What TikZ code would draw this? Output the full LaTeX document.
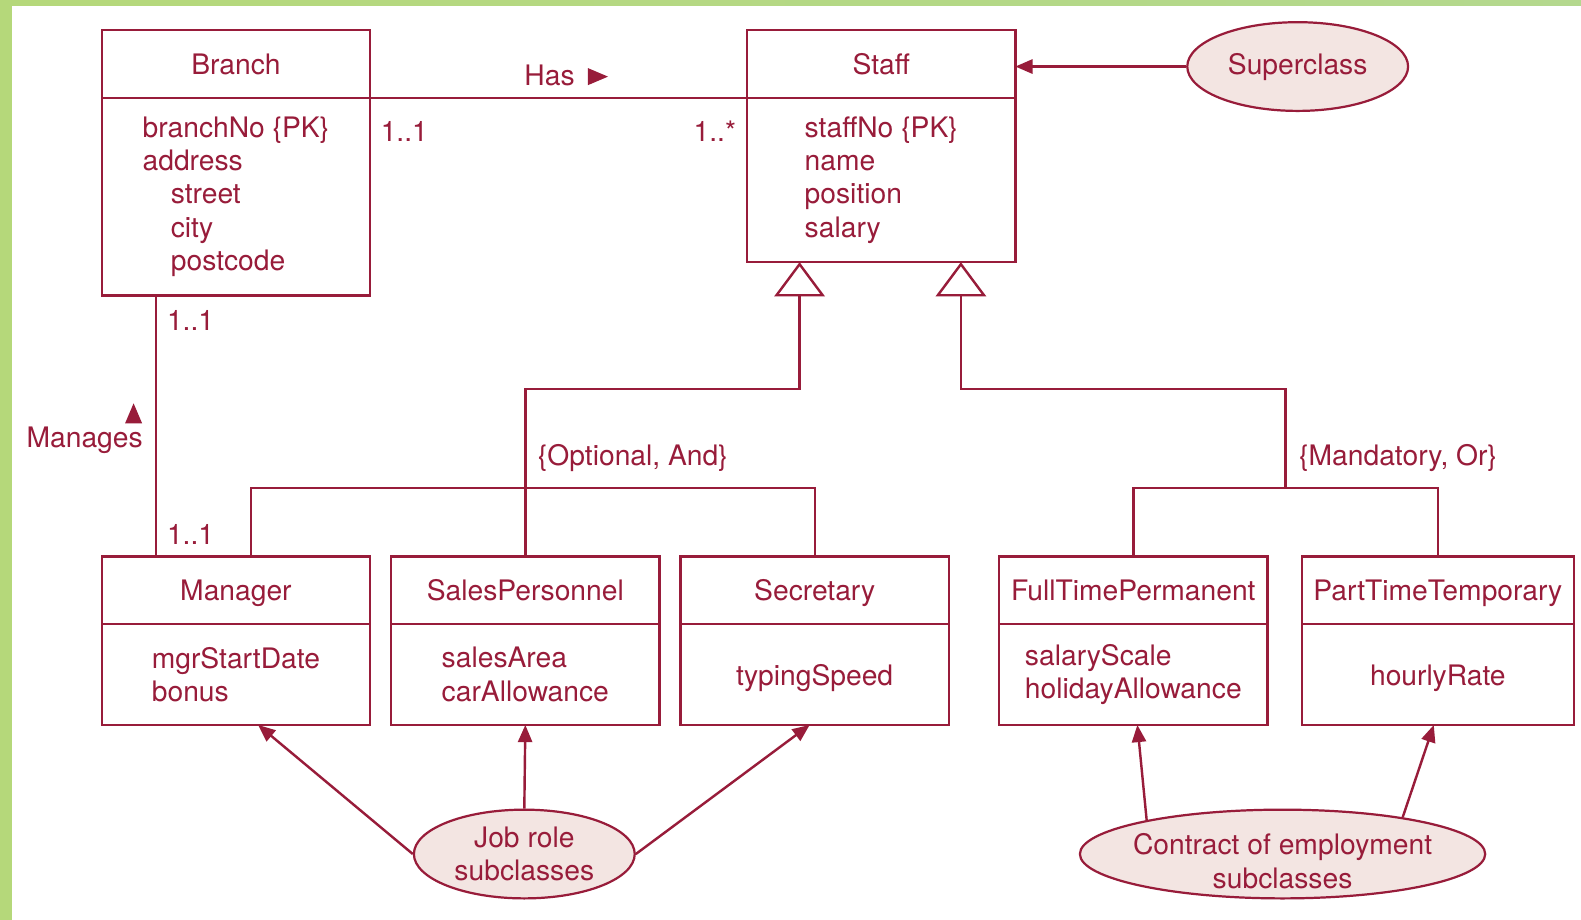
\documentclass[tikz,border=0pt]{standalone}
\usepackage{fontspec}
\setmainfont{TeX Gyre Heros}
\usetikzlibrary{shapes.geometric,arrows.meta}

\definecolor{umlred}{RGB}{152,28,58}
\definecolor{notefill}{RGB}{243,229,226}
\definecolor{barleft}{RGB}{181,216,122}
\definecolor{barmid}{RGB}{204,224,132}
\definecolor{barright}{RGB}{180,216,142}

\tikzset{
  every node/.style={font=\fontsize{28}{33}\selectfont, text=umlred},
  head/.style={draw=umlred, line width=2.4pt, minimum width=266, minimum height=67, inner sep=0pt, outer sep=0pt, text height=24pt, text depth=4pt},
  body/.style={draw=umlred, line width=2.4pt, minimum width=266, inner sep=0pt, outer sep=0pt, align=left, anchor=north, execute at begin node=\rule{0pt}{28pt}},
  note/.style={ellipse, draw=umlred, fill=notefill, line width=2.2pt, inner sep=0pt, minimum height=88},
  link/.style={draw=umlred, line width=2.4pt},
  arr/.style={link, -{Triangle[length=17pt,width=14pt]}},
  gen/.style={link, -{Triangle[open,length=34pt,width=50pt,fill=white]}}
}

\begin{document}
\begin{tikzpicture}[x=1pt,y=-1pt]
  \useasboundingbox (0,0) rectangle (1568,912);
  \fill[white] (0,0) rectangle (1568,912);
  \fill[barleft] (0,0) rectangle (12,912);
  \shade[left color=barleft, middle color=barmid, right color=barright] (0,0) rectangle (1568,5);

  % Superclass and its association
  \node[head] (branchH) at (234,63.5) {Branch};
  \node[body, minimum height=196] (branchB) at (branchH.south) {branchNo \{PK\}\\address\\\hspace*{28pt}street\\\hspace*{28pt}city\\\hspace*{28pt}postcode};
  \node[head] (staffH) at (874,63.5) {Staff};
  \node[body, minimum height=163] (staffB) at (staffH.south) {staffNo \{PK\}\\name\\position\\salary};
  \draw[link] (branchH.south east) -- (staffH.south west);
  \node (hasL) at (545,75) {Has};
  \fill[umlred] (583,67.5) -- (603,76) -- (583,84.5) -- cycle;
  \node (branchMult) at (401,130) {1..1};
  \node (staffMult) at (709,130) {1..*};

  % Subclasses
  \node[head] (mgrH) at (234,585.5) {Manager};
  \node[body, minimum height=100] (mgrB) at (mgrH.south) {mgrStartDate\\bonus};
  \node[head] (salesH) at (521,585.5) {SalesPersonnel};
  \node[body, minimum height=100] (salesB) at (salesH.south) {salesArea\\carAllowance};
  \node[head] (secH) at (808,585.5) {Secretary};
  \node[body, minimum height=100] (secB) at (secH.south) {typingSpeed};
  \node[head] (ftH) at (1124,585.5) {FullTimePermanent};
  \node[body, minimum height=100] (ftB) at (ftH.south) {salaryScale\\holidayAllowance};
  \node[head, minimum width=270] (ptH) at (1426,585.5) {PartTimeTemporary};
  \node[body, minimum width=270, minimum height=100] (ptB) at (ptH.south) {hourlyRate};

  % Manages
  \coordinate (mgrLink) at (155,420);
  \draw[link] (branchB.south -| mgrLink) -- (mgrH.north -| mgrLink);
  \node (mgrMultTop) at (189,318) {1..1};
  \node (mgrMultBot) at (189,530) {1..1};
  \node (manL) at (84,437) {Manages};
  \fill[umlred] (124,420) -- (132.5,400) -- (141,420) -- cycle;

  % Generalizations
  \coordinate (jobGen) at (793,386);
  \coordinate (jobBar) at (521,484);
  \coordinate (mgrTap) at (249,552);
  \draw[gen] (salesH.north) |- (jobGen) -- (jobGen |- staffB.south);
  \draw[link] (mgrTap) |- (jobBar) -| (secH.north);
  \node[anchor=west] (optL) at (530,454) {\{Optional, And\}};
  \coordinate (contrGen) at (953,386);
  \coordinate (contrBar) at (1275,484);
  \draw[gen] (contrBar) |- (contrGen) -- (contrGen |- staffB.south);
  \draw[link] (ftH.north) |- (contrBar) -| (ptH.north);
  \node[anchor=west] (mandL) at (1285,454) {\{Mandatory, Or\}};

  % Notes
  \node[note, minimum width=219, label={center:Superclass}] (super) at (1287,66) {};
  \draw[arr] (super.west) -- (super.west -| staffH.east);
  \node[note, minimum width=219, label={[align=center]center:Job role\\subclasses}] (jobrole) at (520,847) {};
  \coordinate (mgrEnd) at (256,719);
  \coordinate (secEnd) at (803,719);
  \draw[arr] (jobrole.west) -- (mgrEnd);
  \draw[arr] (jobrole.north) -- (salesB.south);
  \draw[arr] (jobrole.east) -- (secEnd);
  \node[note, minimum width=402, label={[align=center,yshift=-7pt]center:Contract of employment\\subclasses}] (contract) at (1272,847) {};
  \coordinate (ftEnd) at (1128,719);
  \coordinate (ptEnd) at (1422,719);
  \draw[arr] (contract.166) -- (ftEnd);
  \draw[arr] (contract.17) -- (ptEnd);
\end{tikzpicture}
\end{document}
